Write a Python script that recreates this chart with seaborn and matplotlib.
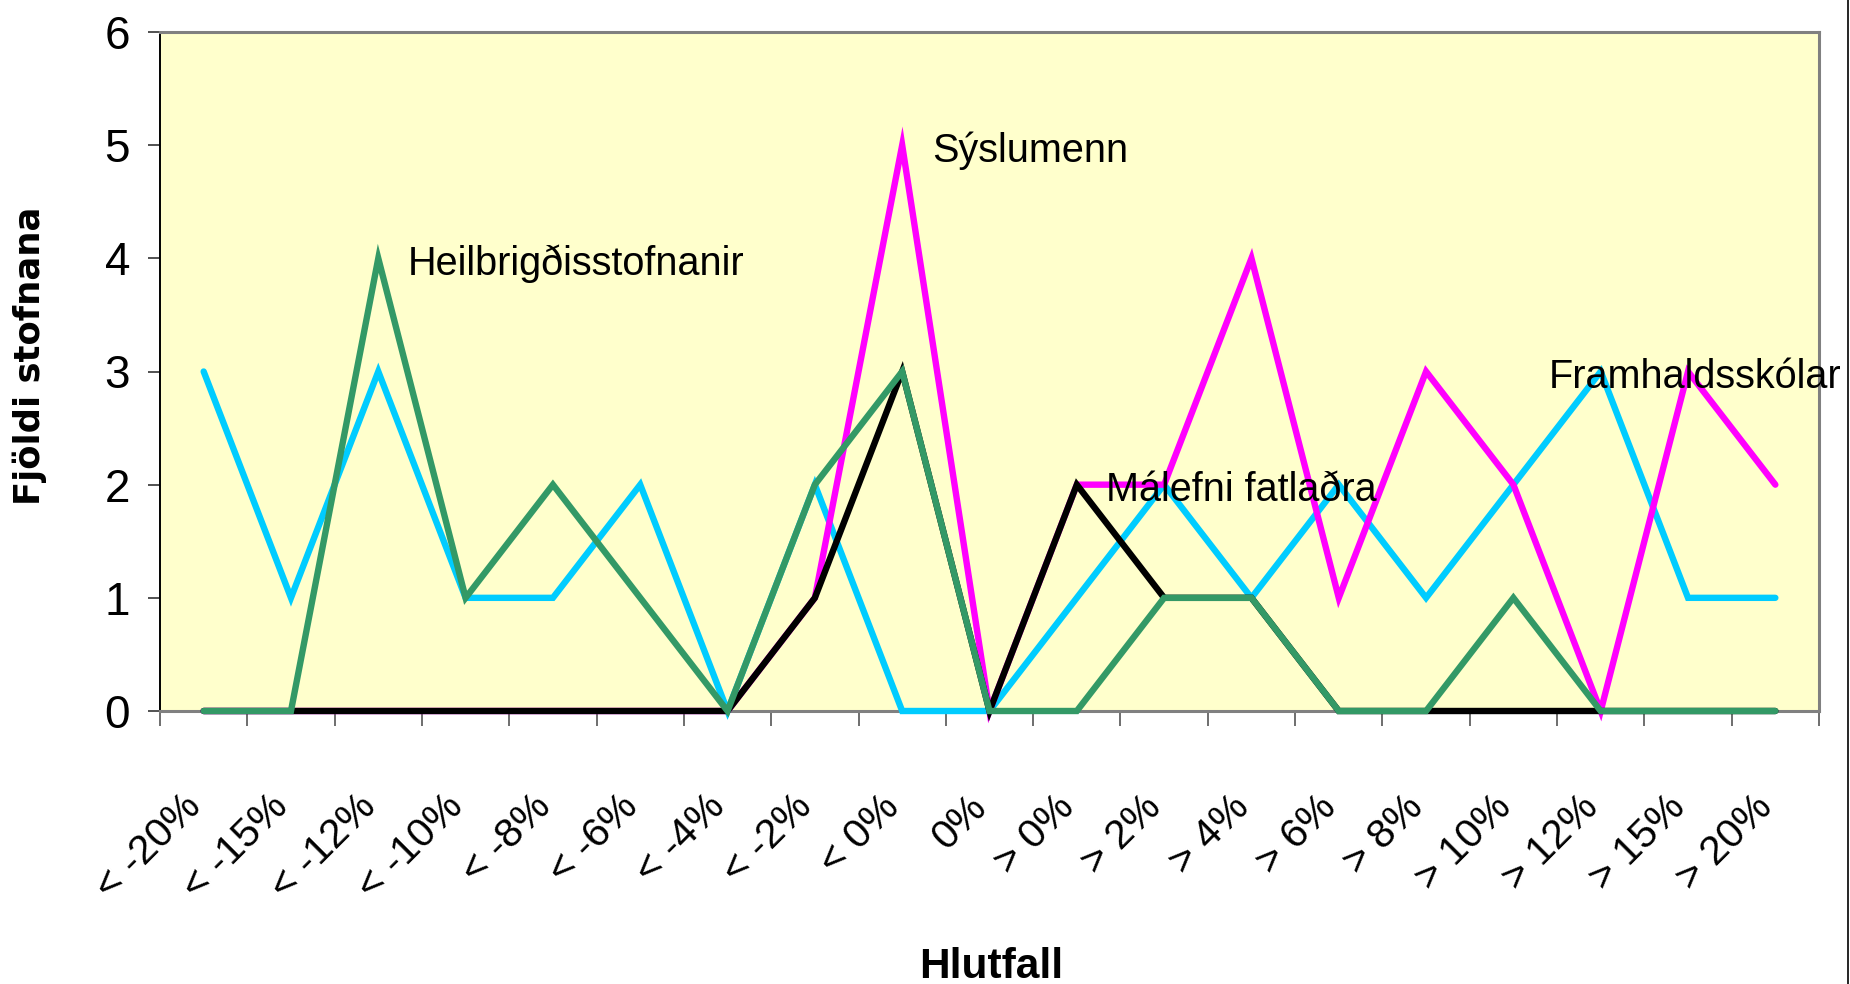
import numpy as np
import pandas as pd
import matplotlib
matplotlib.use("Agg")
import matplotlib.pyplot as plt
import seaborn as sns
from matplotlib import font_manager
from matplotlib.transforms import ScaledTranslation
from matplotlib.lines import Line2D

# ---------------- data ----------------
categories = ["< -20%", "< -15%", "< -12%", "< -10%", "< -8%", "< -6%", "< -4%",
              "< -2%", "< 0%", "0%", "> 0%", "> 2%", "> 4%", "> 6%", "> 8%",
              "> 10%", "> 12%", "> 15%", "> 20%"]
framhaldsskolar = [3, 1, 3, 1, 1, 2, 0, 2, 0, 0, 1, 2, 1, 2, 1, 2, 3, 1, 1]
syslumenn       = [0, 0, 0, 0, 0, 0, 0, 1, 5, 0, 2, 2, 4, 1, 3, 2, 0, 3, 2]
malefni         = [0, 0, 0, 0, 0, 0, 0, 1, 3, 0, 2, 1, 1, 0, 0, 0, 0, 0, 0]
heilbrigdis     = [0, 0, 4, 1, 2, 1, 0, 2, 3, 0, 0, 1, 1, 0, 0, 1, 0, 0, 0]
series_names = ["Framhaldsskólar", "Sýslumenn", "Málefni fatlaðra", "Heilbrigðisstofnanir"]
series_colors = ["#00CCFF", "#FF00FF", "#000000", "#339966"]
y_ticks = [0, 1, 2, 3, 4, 5, 6]
x_title = "Hlutfall"
y_title = "Fjöldi stofnana"
# label anchors (category index, value)
label_pos = {"Heilbrigðisstofnanir": (2.34, 4), "Sýslumenn": (8.34, 5),
             "Málefni fatlaðra": (10.33, 2), "Framhaldsskólar": (15.41, 3)}

# ---------------- fonts ----------------
names = {f.name for f in font_manager.fontManager.ttflist}
NARROW = "Liberation Sans Narrow" if "Liberation Sans Narrow" in names else "Liberation Sans"

sns.set_theme(style="white")
plt.rcParams["font.family"] = [NARROW, "DejaVu Sans"]
plt.rcParams["text.color"] = "black"
plt.rcParams["xtick.color"] = "black"
plt.rcParams["ytick.color"] = "black"

df = pd.DataFrame({
    "pos": np.tile(np.arange(len(categories)), 4),
    "value": framhaldsskolar + syslumenn + malefni + heilbrigdis,
    "series": np.repeat(series_names, len(categories)),
})

W, H = 1850, 984
fig = plt.figure(figsize=(W / 100, H / 100), dpi=100)
ax = fig.add_axes([160 / W, 1 - 711 / H, (1819 - 160) / W, (711 - 32) / H])
ax.set_facecolor("#FFFFCC")

sns.lineplot(data=df, x="pos", y="value", hue="series", hue_order=series_names,
             palette=dict(zip(series_names, series_colors)), estimator=None,
             sort=False, linewidth=4.6, legend=False, ax=ax)
for ln in ax.get_lines():
    ln.set_clip_on(False)
    ln.set_solid_joinstyle("miter")
    ln.set_zorder(3)

ax.set_xlim(-0.5, len(categories) - 0.5)
ax.set_ylim(0, 6)

# y axis
ax.set_yticks(y_ticks)
ax.set_yticklabels([str(v) for v in y_ticks], fontsize=33)
ax.tick_params(axis="y", which="major", direction="out", length=8.6, width=1.2,
               color="#333333", labelcolor="black", pad=13, left=True)

# x axis: ticks at category boundaries, labels at centers
ax.set_xticks(np.arange(-0.5, len(categories)), minor=False)
ax.set_xticklabels([], minor=False)
ax.set_xticks(np.arange(len(categories)), minor=True)
ax.set_xticklabels(categories, minor=True, fontsize=29.5)
ax.tick_params(axis="x", which="major", direction="out", length=11, width=1.2,
               color="#555555", bottom=True)
ax.tick_params(axis="x", which="minor", length=0, pad=55, labelcolor="black",
               bottom=True)
off = ScaledTranslation(-0.22, 0, fig.dpi_scale_trans)
for lab in ax.get_xticklabels(minor=True):
    lab.set_rotation(45)
    lab.set_rotation_mode("anchor")
    lab.set_ha("right")
    lab.set_va("top")
    lab.set_transform(lab.get_transform() + off)

ax.set_xlabel("")
ax.set_ylabel("")

# spines
ax.spines["left"].set_color("#000000")
ax.spines["left"].set_linewidth(1.4)
for s in ["top", "right", "bottom"]:
    ax.spines[s].set_color("#808080")
    ax.spines[s].set_linewidth(2.2)
    ax.spines[s].set_visible(True)
ax.spines["left"].set_visible(True)

# series labels
for name in series_names:
    x0, y0 = label_pos[name]
    ax.text(x0, y0 - 0.145, name, fontsize=28.5, ha="left", va="baseline",
            color="black", clip_on=False, zorder=5)

# axis titles
fig.text(991 / W, 1 - 978 / H, x_title, ha="center", va="baseline",
         fontsize=30.5, fontweight="bold", color="black")
fig.text(30 / W, 1 - 356 / H, y_title, ha="center", va="center", rotation=90,
         fontsize=25.5, fontweight="bold", family=["DejaVu Sans"], color="black")

# right border of the picture
fig.add_artist(Line2D([1847.5 / W, 1847.5 / W], [0, 1], color="black",
                      linewidth=1.2, transform=fig.transFigure))

fig.savefig("out.png", dpi=100, facecolor="white")
